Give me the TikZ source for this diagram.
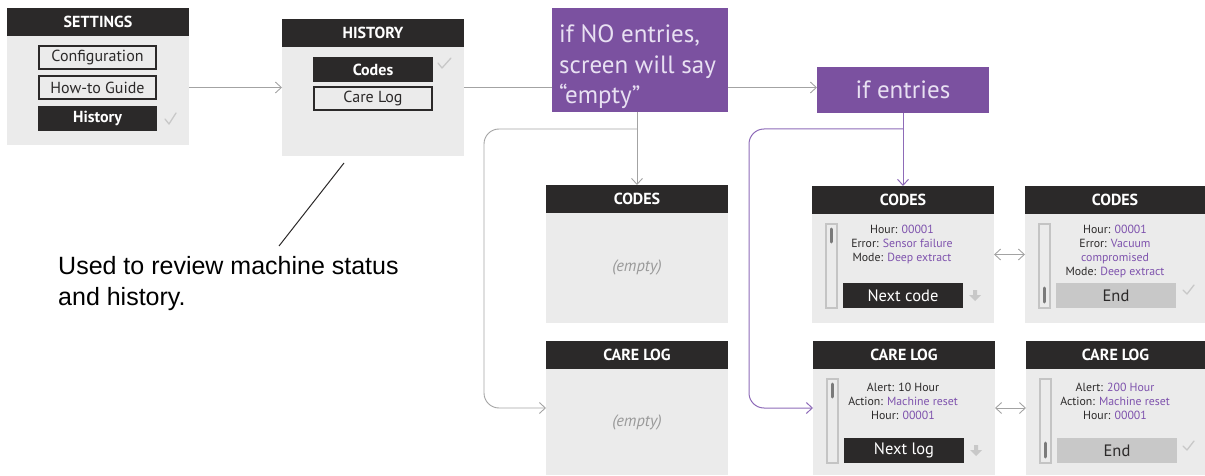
\documentclass[tikz,border=0pt]{standalone}
\usepackage{fontspec}
\setmainfont{PT Sans}
\newfontfamily\notefont{Liberation Sans}
\usetikzlibrary{arrows.meta,calc}

\definecolor{ink}{HTML}{2B2929}
\definecolor{pane}{HTML}{EBEBEB}
\definecolor{plum}{HTML}{7B51A0}
\definecolor{plumtxt}{HTML}{7E52AD}
\definecolor{plumline}{HTML}{8E6BB8}
\definecolor{wire}{HTML}{A3A3A3}
\definecolor{tick}{HTML}{C8C8C8}
\definecolor{track}{HTML}{C4C4C4}
\definecolor{thumb}{HTML}{7A7A7A}
\definecolor{tagtext}{HTML}{E8E0F2}
\definecolor{mute}{HTML}{9A9A9A}
\definecolor{btn}{HTML}{C8C8C8}

\newcommand\datum[1]{\textcolor{plumtxt}{#1}}

\tikzset{
  panel/.style={fill=pane, anchor=north west, inner sep=0pt, outer sep=0pt},
  titlebar/.style={fill=ink, text=white, anchor=north west, inner sep=0pt, outer sep=0pt,
    minimum height=28pt, font=\bfseries\fontsize{16}{18}\selectfont},
  optbox/.style={draw=ink, line width=2pt, fill=pane, minimum width=117pt, minimum height=23pt,
    inner sep=0pt, text=ink, font=\fontsize{16}{18}\selectfont},
  optsel/.style={fill=ink, text=white, minimum width=119pt, minimum height=25pt,
    inner sep=0pt, font=\bfseries\fontsize{16}{18}\selectfont},
  darkbtn/.style={fill=ink, text=white, minimum width=120pt, minimum height=25pt,
    inner sep=0pt, font=\fontsize{16.5}{18}\selectfont},
  lightbtn/.style={fill=btn, text=ink, minimum width=120pt, minimum height=25pt,
    inner sep=0pt, font=\fontsize{16.5}{18}\selectfont},
  info/.style={align=center, inner sep=0pt, anchor=north, text=ink,
    font=\fontsize{11.8}{14}\selectfont},
  emptytext/.style={text=mute, font=\itshape\fontsize{16.5}{18}\selectfont},
  tag/.style={fill=plum, anchor=north west, inner sep=0pt, outer sep=0pt},
  tagtxt/.style={text=tagtext, font=\fontsize{25}{30.5}\selectfont},
  tickmark/.style={draw=tick, line width=1.3pt, line cap=round, line join=round},
  scrolltrack/.style={draw=track, line width=2.5pt, fill=pane},
  scrollthumb/.style={draw=thumb, line width=3pt, line cap=round},
  downarrow/.style={fill=tick},
  wireline/.style={draw=wire, line width=0.9pt},
  plumwire/.style={draw=plumline, line width=1pt},
  noteline/.style={draw=ink, line width=1pt},
  note/.style={align=left, inner sep=0pt, anchor=north west, text=black,
    font=\notefont\fontsize{25}{31}\selectfont},
}

\begin{document}
\begin{tikzpicture}[x=1pt, y=-1pt, >={Straight Barb[length=6pt,width=11pt]}]
\useasboundingbox (0,0) rectangle (1205,476);

% ---------- settings menu ----------
\node[panel, minimum width=182pt, minimum height=137pt] (settings) at (7,8) {};
\node[titlebar, minimum width=182pt] (settingsBar) at (7,8) {SETTINGS};
\node[optbox] (config) at (97.5,57.5) {Configuration};
\node[optbox] (howto) at (97.5,87.5) {How-to Guide};
\node[optsel] (histItem) at (97.5,118.5) {History};
\draw[tickmark] (165,119) -- (169,124) -- (176,113);

% ---------- history menu ----------
\node[panel, minimum width=182pt, minimum height=137pt] (history) at (282,19) {};
\node[titlebar, minimum width=182pt] (historyBar) at (282,19) {HISTORY};
\node[optsel, minimum width=120pt] (codesItem) at (373,69.5) {Codes};
\node[optbox, minimum width=118pt] (careItem) at (373,98.5) {Care Log};
\draw[tickmark] (438,63) -- (442,68) -- (451,58);

% ---------- condition tags ----------
\node[tag, minimum width=176pt, minimum height=104pt] (noTag) at (552,8) {};
\node[tagtxt, align=left, inner sep=0pt, anchor=north west] (noTagText)
  at ($(noTag.north west)+(7,17)$) {if NO entries,\\screen will say\\“empty”};
\node[tag, minimum width=172pt, minimum height=46pt, tagtxt] (yesTag) at (817,67) {if entries};

% ---------- empty screens ----------
\node[panel, minimum width=182pt, minimum height=138pt] (codesE) at (546,185) {};
\node[titlebar, minimum width=182pt] (codesEBar) at (546,185) {CODES};
\node[emptytext] (codesEMsg) at (637,267) {(empty)};

\node[panel, minimum width=182pt, minimum height=134pt] (careE) at (546,341) {};
\node[titlebar, minimum width=182pt] (careEBar) at (546,341) {CARE LOG};
\node[emptytext] (careEMsg) at (637,422) {(empty)};

% ---------- codes, first entry ----------
\node[panel, minimum width=182pt, minimum height=137pt] (codesA) at (812,186) {};
\node[titlebar, minimum width=182pt] (codesABar) at (812,186) {CODES};
\draw[scrolltrack] (826,224) rectangle (837,308);
\draw[scrollthumb] (831.5,229) -- (831.5,242);
\node[info] (codesAInfo) at (902,225)
  {Hour: \datum{00001}\\Error: \datum{Sensor failure}\\Mode: \datum{Deep extract}};
\node[darkbtn] (codesANext) at (903,295.5) {Next code};
\fill[downarrow, shift={(975,290)}] (-2,0) -- (2,0) -- (2,5) -- (6,5) -- (0,11) -- (-6,5) -- (-2,5) -- cycle;

% ---------- codes, last entry ----------
\node[panel, minimum width=180pt, minimum height=137pt] (codesB) at (1025,186) {};
\node[titlebar, minimum width=180pt] (codesBBar) at (1025,186) {CODES};
\draw[scrolltrack] (1039,224) rectangle (1050,308);
\draw[scrollthumb] (1044.5,288) -- (1044.5,302);
\node[info] (codesBInfo) at (1115,225)
  {Hour: \datum{00001}\\Error: \datum{Vacuum}\\\datum{compromised}\\Mode: \datum{Deep extract}};
\node[lightbtn] (codesBEnd) at (1116,295.5) {End};
\draw[tickmark] (1183,290) -- (1187,294) -- (1194,285);

% ---------- care log, first entry ----------
\node[panel, minimum width=182pt, minimum height=134pt] (careA) at (813,341) {};
\node[titlebar, minimum width=182pt] (careABar) at (813,341) {CARE LOG};
\draw[scrolltrack] (827,379) rectangle (838,463);
\draw[scrollthumb] (832.5,384) -- (832.5,397);
\node[info] (careAInfo) at (903,383)
  {Alert: 10 Hour\\Action: \datum{Machine reset}\\Hour: \datum{00001}};
\node[darkbtn] (careANext) at (904,450.5) {Next log};
\fill[downarrow, shift={(976,445)}] (-2,0) -- (2,0) -- (2,5) -- (6,5) -- (0,11) -- (-6,5) -- (-2,5) -- cycle;

% ---------- care log, last entry ----------
\node[panel, minimum width=179pt, minimum height=134pt] (careB) at (1026,341) {};
\node[titlebar, minimum width=179pt] (careBBar) at (1026,341) {CARE LOG};
\draw[scrolltrack] (1040,379) rectangle (1051,463);
\draw[scrollthumb] (1045.5,443) -- (1045.5,457);
\node[info] (careBInfo) at (1115,383)
  {Alert: \datum{200 Hour}\\Action: \datum{Machine reset}\\Hour: \datum{00001}};
\node[lightbtn] (careBEnd) at (1117,450.5) {End};
\draw[tickmark] (1183,446) -- (1187,450) -- (1194,441);

% ---------- connectors ----------
\draw[wireline,->] (settings.east |- howto) -- (history.west |- howto);
\draw[wireline] (history.east) -- (history.east -| noTag.west);
\draw[wireline,->] (history.east -| noTag.east) -- (history.east -| yesTag.west);

\draw[wireline,->] (codesE.north |- noTag.south) -- (codesE.north);
\coordinate (forkL) at (637,129);
\coordinate (railL) at (484,260);
\draw[wireline,->,rounded corners=15pt] (forkL) -| (railL) |- (careE.west);

\draw[plumwire,->] (codesA.north |- yesTag.south) -- (codesA.north);
\coordinate (forkR) at (903,129);
\coordinate (railR) at (749,260);
\draw[plumwire,->,rounded corners=15pt] (forkR) -| (railR) |- (careA.west);

\draw[wireline,<->] (codesA.east) -- (codesB.west);
\draw[wireline,<->] (careA.east) -- (careB.west);

% ---------- annotation ----------
\coordinate (noteTip) at (344,163);
\coordinate (noteFoot) at (279,246);
\draw[noteline] (noteTip) -- (noteFoot);
\node[note] (noteText) at (58,256) {Used to review machine status\\and history.};
\end{tikzpicture}
\end{document}
